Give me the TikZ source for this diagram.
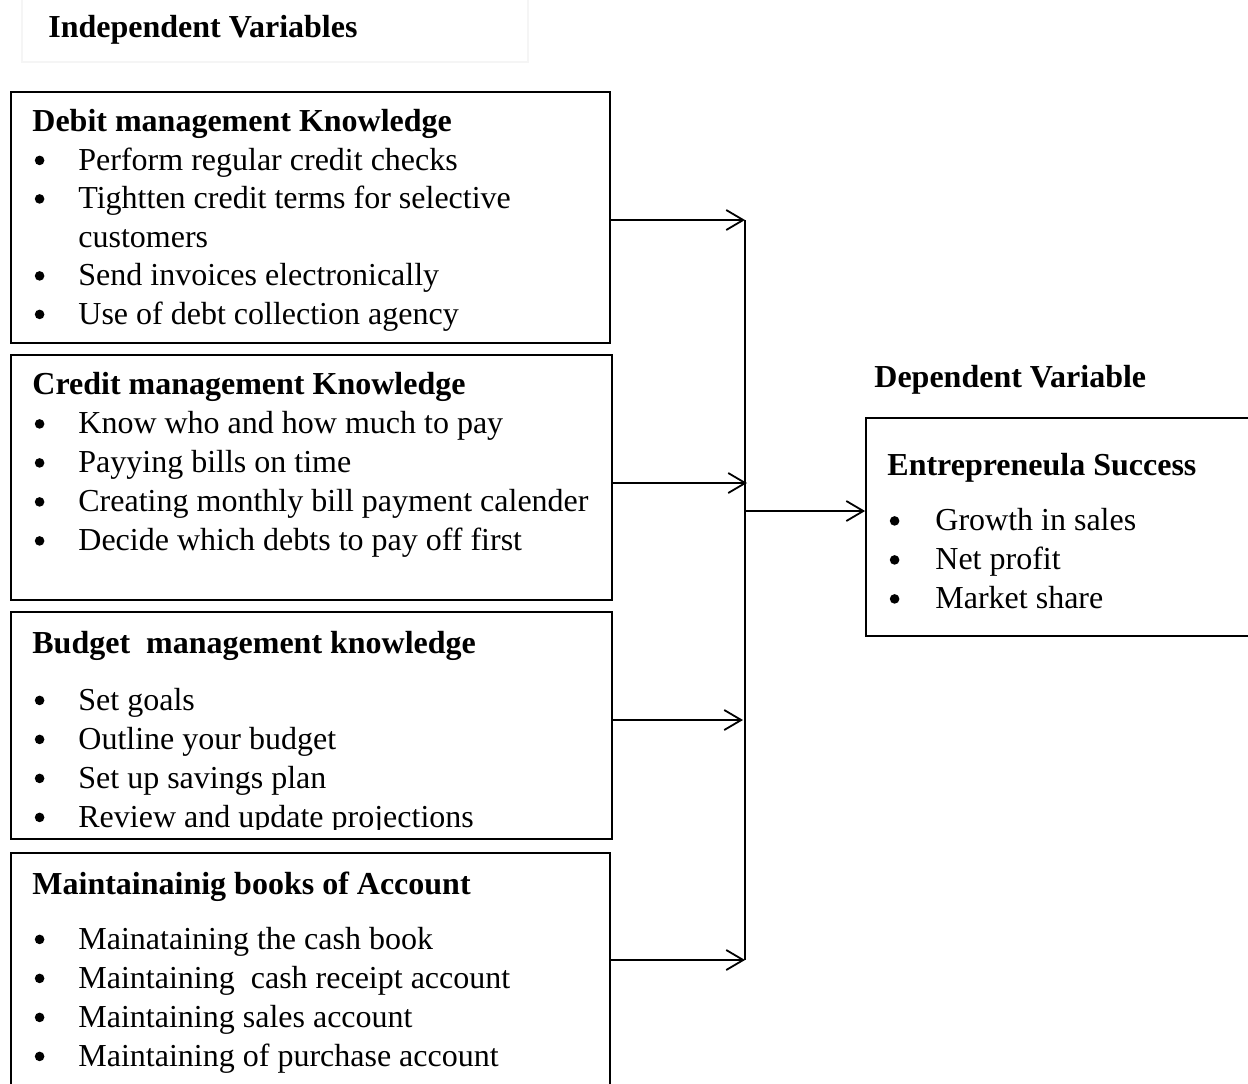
\documentclass[tikz,border=0pt]{standalone}
\usepackage{fontspec}
\setmainfont{Liberation Serif}
\usetikzlibrary{arrows.meta,fit}
\newcommand{\bul}{\hspace{1.2pt}\tikz[baseline=0pt]{\fill (2.4pt,4.8pt) circle[radius=2.4pt];}}
\begin{document}
\begin{tikzpicture}[x=0.5pt,y=-0.5pt,
  box/.style={draw, line width=0.9pt, inner sep=0pt},
  txt/.style={anchor=base west, inner sep=0pt, font=\fontsize{16}{19.5}\selectfont},
  arr/.style={line width=0.8pt, -{Straight Barb[length=8.5pt,width=10pt,line width=0.9pt]}},
  ln/.style={line width=0.8pt}]
\useasboundingbox (0,0) rectangle (1248,1083);
% faint title frame
\node[draw=black!4, line width=0.6pt, inner sep=0pt, fit={(22,-5) (528,62)}] (tframe) {};
\node[txt] (title) at (48,37) {\bfseries Independent Variables};
% boxes
\node[box, fit={(11,92) (610,343)}] (b1) {};
\node[box, fit={(11,355) (612,600)}] (b2) {};
\node[box, fit={(11,612) (612,839)}] (b3) {};
\node[box, fit={(11,853) (610,1110)}] (b4) {};
\node[box, fit={(866,418) (1262,636)}] (b5) {};
% texts
\node[txt, font=\fontsize{16}{19.25}\selectfont] (t1) at (32,131.5) {\begin{tabular}[t]{@{}p{23pt}@{}l@{}}
\multicolumn{2}{@{}l@{}}{\bfseries Debit management Knowledge}\\
\bul & Perform regular credit checks\\
\bul & Tightten credit terms for selective\\
 & customers\\
\bul & Send invoices electronically\\
\bul & Use of debt collection agency
\end{tabular}};
\node[txt] (t2) at (32,394.5) {\begin{tabular}[t]{@{}p{23pt}@{}l@{}}
\multicolumn{2}{@{}l@{}}{\bfseries Credit management Knowledge}\\
\bul & Know who and how much to pay\\
\bul & Payying bills on time\\
\bul & Creating monthly bill payment calender\\
\bul & Decide which debts to pay off first
\end{tabular}};
\begin{scope}
\clip (11,612) rectangle (612,829);
\node[txt] (t3) at (32,653) {\begin{tabular}[t]{@{}p{23pt}@{}l@{}}
\multicolumn{2}{@{}l@{}}{\bfseries Budget\ \ management knowledge}\\[9pt]
\bul & Set goals\\
\bul & Outline your budget\\
\bul & Set up savings plan\\
\bul & Review and update projections
\end{tabular}};
\end{scope}
\node[txt] (t4) at (32,894) {\begin{tabular}[t]{@{}p{23pt}@{}l@{}}
\multicolumn{2}{@{}l@{}}{\bfseries Maintainainig books of Account}\\[8pt]
\bul & Mainataining the cash book\\
\bul & Maintaining\ \ cash receipt account\\
\bul & Maintaining sales account\\
\bul & Maintaining of purchase account
\end{tabular}};
\node[txt] (dv) at (874,387) {\bfseries Dependent Variable};
\node[txt] (t5) at (887,475.5) {\begin{tabular}[t]{@{}p{24pt}@{}l@{}}
\multicolumn{2}{@{}l@{}}{\bfseries Entrepreneula Success}\\[8pt]
\bul & Growth in sales\\
\bul & Net profit\\
\bul & Market share
\end{tabular}};
% connectors
\coordinate (bus1) at (745,220);
\coordinate (bus2) at (747,483);
\coordinate (bus3) at (743,720);
\coordinate (bus4) at (745,960);
\coordinate (busout) at (745,511);
\draw[ln] (bus1) -- (bus4);
\draw[arr] (b1.east |- bus1) -- (bus1);
\draw[arr] (b2.east |- bus2) -- (bus2);
\draw[arr] (b3.east |- bus3) -- (bus3);
\draw[arr] (b4.east |- bus4) -- (bus4);
\draw[arr] (busout) -- (b5.west |- busout);
\end{tikzpicture}
\end{document}
